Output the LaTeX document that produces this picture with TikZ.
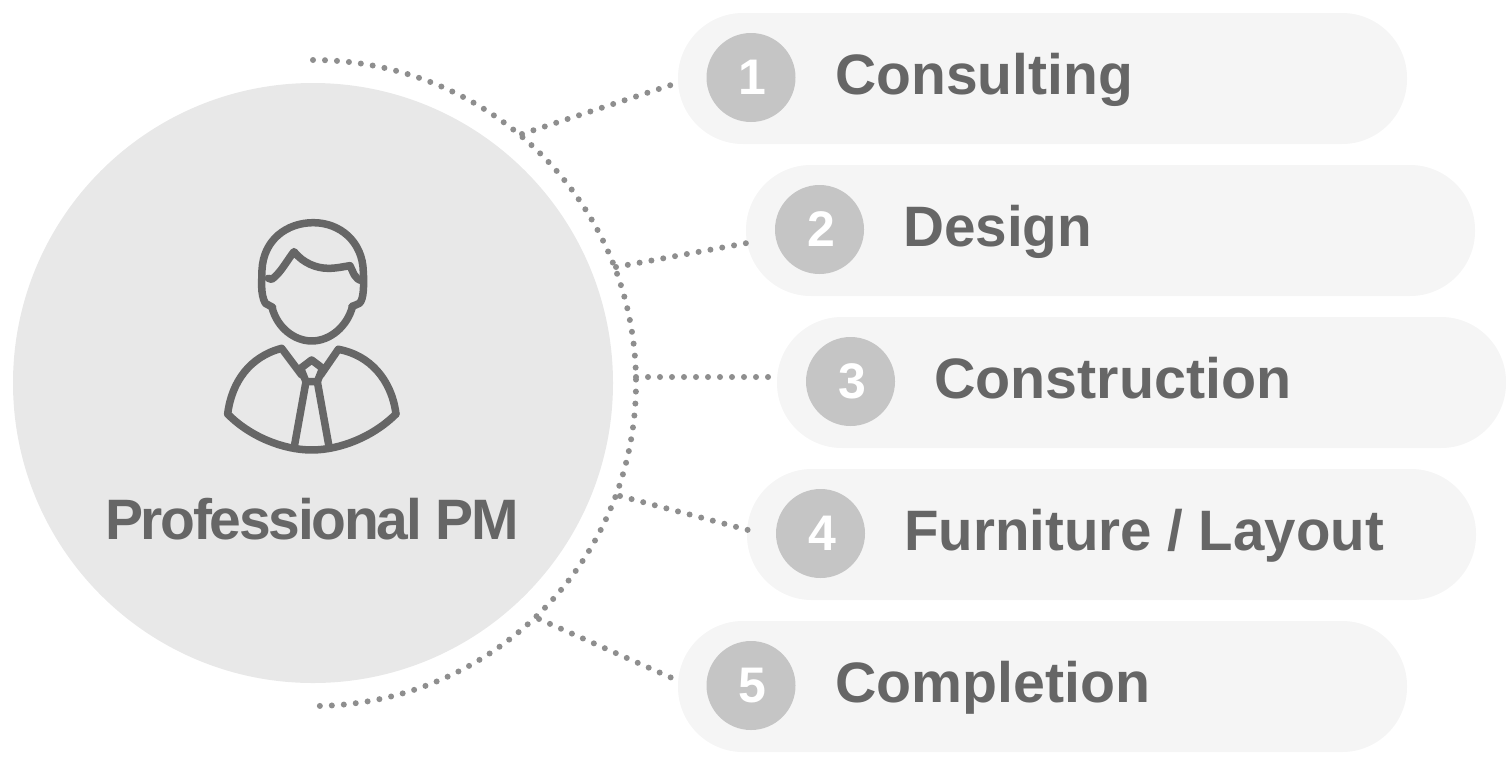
\documentclass[tikz,border=0pt]{standalone}
\usepackage{fontspec}
\setmainfont{Liberation Sans}[BoldFont={Liberation Sans Bold}]
\definecolor{maincirc}{HTML}{E8E8E8}
\definecolor{pillbg}{HTML}{F5F5F5}
\definecolor{numbg}{HTML}{C5C5C5}
\definecolor{ink}{HTML}{666666}
\definecolor{dotc}{HTML}{8E8E8E}
\newcommand{\numtxt}[1]{\hspace*{3pt}\raisebox{-1pt}{#1}}
\newcommand{\wid}[2]{\scalebox{#1}[1]{#2}}
\tikzset{
  pill/.style={fill=pillbg,rounded corners=65pt,minimum width=729pt,minimum height=131pt,inner sep=0pt},
  numdisc/.style={circle,fill=numbg,minimum size=89pt,inner sep=0pt,text=white,font=\fontsize{50}{50}\selectfont\bfseries},
  lbl/.style={anchor=base west,inner sep=0pt,text=ink,font=\fontsize{57}{57}\selectfont\bfseries},
  dots/.style={dotc,line width=6pt,line cap=round,dash pattern=on 0pt off 12pt},
  iconline/.style={ink,line width=7.5pt,line join=round,line cap=round}
}
\begin{document}
\begin{tikzpicture}[x=1pt,y=-1pt]
\useasboundingbox (0,0) rectangle (1506,764);
\node[circle,fill=maincirc,minimum size=600pt,inner sep=0pt] (main) at (313,383) {};
\node[pill] (p1) at (1042.5,78.5) {};
\node[pill] (p2) at (1110.5,230.5) {};
\node[pill] (p3) at (1141.5,382.5) {};
\node[pill] (p4) at (1111.5,534.5) {};
\node[pill] (p5) at (1042.5,686.5) {};
\node[numdisc] (n1) at (751,77.5) {\numtxt{1}};
\node[numdisc] (n2) at (819.5,229.5) {\numtxt{2}};
\node[numdisc] (n3) at (850.5,381.5) {\numtxt{3}};
\node[numdisc] (n4) at (820.5,533.5) {\numtxt{4}};
\node[numdisc] (n5) at (751,685.5) {\numtxt{5}};
\node[lbl] (t1) at (835,94) {\wid{1.0}{Consulting}};
\node[lbl] (t2) at (903,246) {\wid{0.995}{Design}};
\node[lbl] (t3) at (934,398) {\wid{1.008}{Construction}};
\node[lbl] (t4) at (904,550) {\wid{0.99}{Furniture / Layout}};
\node[lbl] (t5) at (835,702) {\wid{1.005}{Completion}};
\node[anchor=base,inner sep=0pt,text=ink,font=\fontsize{57}{57}\selectfont\bfseries\addfontfeature{LetterSpace=-4.0}] (pm) at (312,539) {Professional PM};
\coordinate (a1) at (522,134); \coordinate (b1) at (671,85);
\coordinate (a2) at (616,267); \coordinate (b2) at (747,243);
\coordinate (a3) at (636,377); \coordinate (b3) at (773,377);
\coordinate (a4) at (620,496); \coordinate (b4) at (748,530);
\coordinate (a5) at (539,619); \coordinate (b5) at (672,678);
\coordinate (arcstart) at (313,60);
\draw[dots] (arcstart) arc[start angle=90,end angle=-89,radius=323pt];
\foreach \i in {1,...,5}{\draw[dots] (a\i) -- (b\i);}
\begin{scope}[shift={(200,200)},x=0.3333pt,y=-0.3333pt]
\draw[iconline] (218,322) -- (196,310) .. controls (180,280) and (186,240) .. (186,210)
  .. controls (190,120) and (260,68) .. (340,68)
  .. controls (420,68) and (488,125) .. (490,215)
  .. controls (492,250) and (492,300) .. (478,310) -- (456,320);
\draw[iconline] (216,322) .. controls (232,385) and (285,423) .. (335,423)
  .. controls (390,423) and (442,380) .. (458,318);
\draw[iconline] (205,235) -- (215,238) .. controls (240,222) and (262,180) .. (282,155)
  .. controls (310,190) and (350,205) .. (385,205) .. controls (410,205) and (430,200) .. (450,197)
  .. controls (458,210) and (462,240) .. (488,242);
\draw[iconline] (83,642) .. controls (95,545) and (150,470) .. (245,445) -- (305,525);
\draw[iconline] (415,448) .. controls (510,465) and (575,540) .. (588,642) ;
\draw[iconline] (415,448) -- (362,525);
\draw[iconline] (83,642) .. controls (150,710) and (250,750) .. (335,750) .. controls (420,750) and (520,710) .. (588,642);
\draw[iconline] (302,505) -- (335,480) -- (368,505) -- (352,545) -- (318,545) -- cycle;
\draw[iconline] (318,545) -- (282,745);
\draw[iconline] (352,545) -- (388,745);
\end{scope}
\end{tikzpicture}
\end{document}
